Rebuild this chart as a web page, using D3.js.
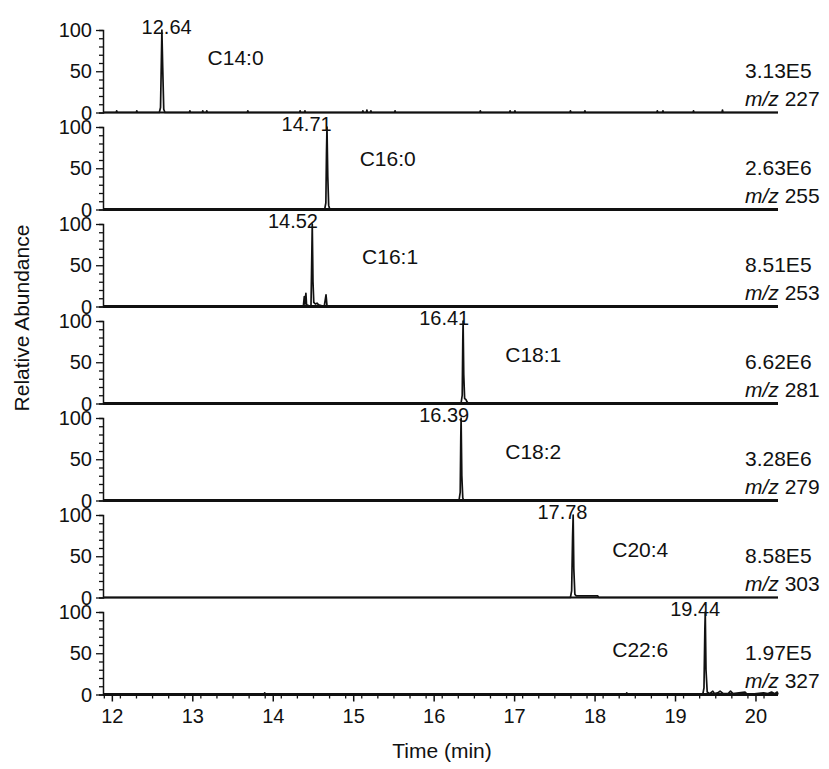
<!DOCTYPE html>
<html><head><meta charset="utf-8">
<script src="https://cdn.jsdelivr.net/npm/d3@7"></script>
<style>body{margin:0;background:#fff} text{font-family:"Liberation Sans",Arial,sans-serif;fill:#111}</style>
</head><body><svg id="c" width="829" height="769"></svg>
<script>
// ---------- data ----------
const compounds = ["C14:0","C16:0","C16:1","C18:1","C18:2","C20:4","C22:6"];
const peakLabels = ["12.64","14.71","14.52","16.41","16.39","17.78","19.44"];
const peakLabelStart = [12.37,14.11,13.94,15.82,15.82,17.29,18.94];
const intensities = ["3.13E5","2.63E6","8.51E5","6.62E6","3.28E6","8.58E5","1.97E5"];
const mzValues = ["227","255","253","281","279","303","327"];
const compoundLabelT = [13.19,15.08,15.11,16.89,16.89,18.22,18.22];
const compoundLabelY = [66,62,60,59,59,58,54];
const xTicks = [12,13,14,15,16,17,18,19,20];
const yTicks = [0,50,100];
const timeRange = [11.89,20.28];

const trace1 = [[12.59,0],[12.605,6],[12.615,60],[12.622,100],[12.632,55],[12.645,4],[12.66,0]];
const trace2 = [[14.645,0],[14.66,8],[14.668,70],[14.674,100],[14.684,40],[14.695,5],[14.71,0]];
const trace3 = [[14.38,0],[14.392,12],[14.40,3],[14.412,16],[14.42,2],[14.475,0],[14.482,40],[14.491,100],[14.50,30],[14.51,5],[14.53,3],[14.55,4],[14.57,2],[14.64,0],[14.662,14],[14.675,0]];
const trace4 = [[16.34,0],[16.355,10],[16.362,75],[16.366,100],[16.374,35],[16.385,6],[16.40,5],[16.415,2],[16.43,0]];
const trace5 = [[16.315,0],[16.33,10],[16.337,75],[16.341,100],[16.35,30],[16.362,3],[16.375,0]];
const trace6 = [[17.70,0],[17.715,8],[17.727,75],[17.734,100],[17.742,35],[17.755,4],[17.77,2],[17.90,2],[18.04,2],[18.05,0]];
const trace7 = [[19.345,0],[19.36,8],[19.371,80],[19.376,100],[19.385,30],[19.40,3],[19.43,1],[19.47,4],[19.49,1],[19.53,2],[19.56,4],[19.60,1],[19.66,1],[19.69,4],[19.72,1],[19.87,3],[19.90,0],[20.10,2],[20.15,1],[20.20,3],[20.24,1],[20.27,3]];
const traces = [trace1,trace2,trace3,trace4,trace5,trace6,trace7];

const noise1 = [[12.06,2],[12.31,2],[12.97,2],[13.13,2],[13.18,2],[13.69,2],[14.34,2],[14.40,2],[15.12,2],[15.17,3],[15.22,2],[15.52,2],[16.58,2],[16.95,2],[17.01,2],[17.70,2],[17.88,2],[18.78,2],[18.85,2],[19.23,2],[19.59,3]];
const noise7 = [[13.9,2],[18.4,2]];
const noises = [noise1,[],[],[],[],[],noise7];

// ---------- layout ----------
const svg = d3.select("#c");
svg.append("rect").attr("width",829).attr("height",769).attr("fill","#fff");
const left = 103, right = 778;
const panelTop0 = 30, panelH = 82.5, panelStep = 97;
const baseWidths = [1.8,3,3,3,3,1.8,3];

const x = d3.scaleLinear().domain(timeRange).range([left,right]);

function buildSeries(trace, noise) {
  const pts = [[timeRange[0],0]];
  const all = trace.slice();
  noise.forEach(([t,h]) => { all.push([t-0.006,0],[t,h],[t+0.006,0]); });
  all.sort((a,b)=>a[0]-b[0]);
  return pts.concat(all, [[timeRange[1],0]]);
}

compounds.forEach((name,i) => {
  const top = panelTop0 + i*panelStep;
  const y = d3.scaleLinear().domain([0,100]).range([top+panelH, top]);
  const g = svg.append("g");

  // y axis
  const yAx = g.append("g").attr("transform",`translate(${left},0)`)
    .call(d3.axisLeft(y).tickValues(d3.range(0,101,10)).tickSize(4).tickFormat(""));
  yAx.select(".domain").attr("stroke","#111").attr("stroke-width",1.5);
  yAx.selectAll(".tick line").attr("stroke","#111").attr("stroke-width",1.3)
    .attr("x2", d => (d%50===0) ? -7 : -4);
  yTicks.forEach(v => {
    g.append("text").attr("x",left-11).attr("y",y(v)+7).attr("text-anchor","end")
      .attr("font-size",20).text(v);
  });

  // baseline
  g.append("line").attr("x1",x(timeRange[0])).attr("x2",x(timeRange[1]))
    .attr("y1",y(0)).attr("y2",y(0)).attr("stroke","#111").attr("stroke-width",baseWidths[i]);

  // trace
  const line = d3.line().x(d=>x(d[0])).y(d=>y(d[1]));
  g.append("path").datum(buildSeries(traces[i],noises[i]))
    .attr("d",line).attr("fill","none").attr("stroke","#111").attr("stroke-width",1.7)
    .attr("stroke-linejoin","round");

  // peak label
  g.append("text").attr("x",x(peakLabelStart[i])).attr("y",y(100)+4)
    .attr("font-size",20).text(peakLabels[i]);
  // compound label
  g.append("text").attr("x",x(compoundLabelT[i])).attr("y",y(compoundLabelY[i]))
    .attr("dy","0.35em").attr("font-size",21).text(name);
  // right labels
  g.append("text").attr("x",745).attr("y",y(0)-35).attr("font-size",21).text(intensities[i]);
  const mz = g.append("text").attr("x",745).attr("y",y(0)-7).attr("font-size",21);
  mz.append("tspan").attr("font-style","italic").text("m/z");
  mz.append("tspan").text(" " + mzValues[i]);

  // x axis on last panel
  if (i === compounds.length-1) {
    const xa = g.append("g").attr("transform",`translate(0,${y(0)})`);
    const minor = d3.range(11.9,20.3,0.2).map(v=>+v.toFixed(1)).filter(v=>!xTicks.includes(v));
    xa.call(d3.axisBottom(x).tickValues(minor).tickSize(4).tickFormat(""));
    xa.select(".domain").remove();
    xa.selectAll(".tick line").attr("stroke","#111").attr("stroke-width",1.3);
    const xb = g.append("g").attr("transform",`translate(0,${y(0)})`);
    xb.call(d3.axisBottom(x).tickValues(xTicks).tickSize(7).tickFormat(d3.format("d")));
    xb.select(".domain").remove();
    xb.selectAll(".tick line").attr("stroke","#111").attr("stroke-width",1.5);
    xb.selectAll(".tick text").attr("font-size",20).attr("dy","0").attr("y",28)
      .attr("font-family",'"Liberation Sans",Arial,sans-serif').attr("fill","#111");
  }
});

// axis titles
svg.append("text").attr("transform","translate(29,318) rotate(-90)")
  .attr("text-anchor","middle").attr("font-size",21).text("Relative Abundance");
svg.append("text").attr("x",442).attr("y",758).attr("text-anchor","middle")
  .attr("font-size",21).text("Time (min)");
</script></body></html>
